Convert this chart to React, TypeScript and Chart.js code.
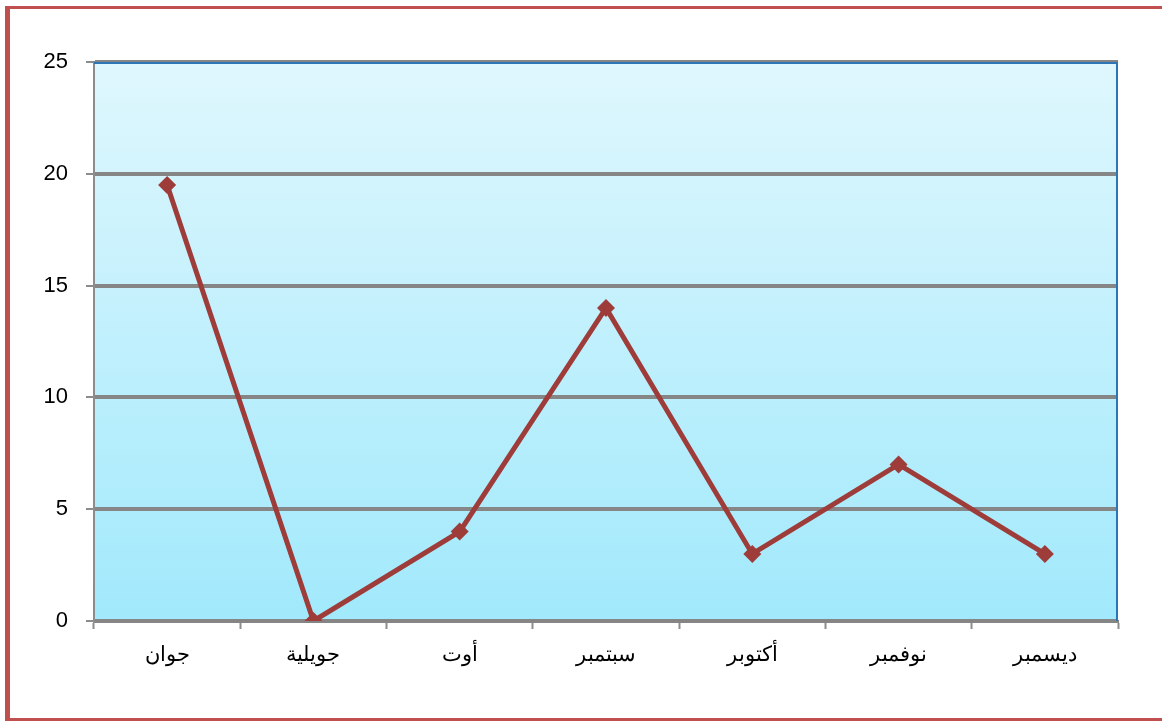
import React, { useEffect, useRef } from "react";
import { Chart, registerables } from "chart.js";

Chart.register(...registerables);

const months = ["جوان", "جويلية", "أوت", "سبتمبر", "أكتوبر", "نوفمبر", "ديسمبر"];
const values = [19.5, 0, 4, 14, 3, 7, 3];
const yTicks = [0, 5, 10, 15, 20, 25];

const bgPlugin = {
  id: "bgPlugin",
  beforeDraw(chart: any) {
    const { ctx, chartArea } = chart;
    const { left, top, right, bottom } = chartArea;
    ctx.save();
    ctx.fillStyle = "#ffffff";
    ctx.fillRect(0, 0, chart.width, chart.height);
    ctx.strokeStyle = "#c0504d";
    ctx.lineWidth = 3;
    ctx.beginPath();
    ctx.moveTo(1170, 7.5);
    ctx.lineTo(7.5, 7.5);
    ctx.lineTo(7.5, 719.5);
    ctx.lineTo(1170, 719.5);
    ctx.stroke();
    ctx.lineWidth = 5;
    ctx.beginPath();
    ctx.moveTo(7.5, 6);
    ctx.lineTo(7.5, 721);
    ctx.stroke();
    const g = ctx.createLinearGradient(0, top, 0, bottom);
    g.addColorStop(0, "#dff7fd");
    g.addColorStop(1, "#a1e9fc");
    ctx.fillStyle = g;
    ctx.fillRect(left, top, right - left, bottom - top);
    ctx.restore();
  },
  afterDraw(chart: any) {
    const { ctx, chartArea } = chart;
    const { left, top, right, bottom } = chartArea;
    ctx.save();
    ctx.strokeStyle = "#2e75b6";
    ctx.lineWidth = 2;
    ctx.beginPath();
    ctx.moveTo(left, top + 1);
    ctx.lineTo(right - 1, top + 1);
    ctx.lineTo(right - 1, bottom);
    ctx.stroke();
    ctx.restore();
  },
};

export default function App() {
  const ref = useRef<HTMLCanvasElement | null>(null);
  useEffect(() => {
    if (!ref.current) return;
    const chart = new Chart(ref.current, {
      type: "line",
      data: {
        labels: months,
        datasets: [
          {
            data: values,
            borderColor: "#9e3c3a",
            backgroundColor: "#9e3c3a",
            borderWidth: 5,
            pointStyle: "rectRot",
            pointRadius: 9,
            pointHoverRadius: 9,
            pointBackgroundColor: "#9e3c3a",
            pointBorderColor: "#9e3c3a",
            pointBorderWidth: 0,
            tension: 0,
          },
        ],
      },
      options: {
        animation: false,
        responsive: false,
        maintainAspectRatio: false,
        layout: { padding: { left: 0, top: 62, right: 44, bottom: 0 } },
        plugins: { legend: { display: false }, tooltip: { enabled: false } },
        scales: {
          x: {
            type: "category",
            offset: true,
            afterFit(scale: any) {
              scale.height = 103;
            },
            grid: {
              offset: true,
              drawOnChartArea: false,
              drawTicks: true,
              tickLength: 8,
              tickColor: "#8c8c8c",
              tickWidth: 2,
            },
            border: { display: true, color: "#858585", width: 3 },
            ticks: {
              color: "#000000",
              font: { family: "'Liberation Sans', Arial, sans-serif", size: 21 },
              padding: 14,
              maxRotation: 0,
            },
          },
          y: {
            min: 0,
            max: 25,
            afterFit(scale: any) {
              scale.width = 94;
            },
            afterBuildTicks(scale: any) {
              scale.ticks = yTicks.map((v) => ({ value: v }));
            },
            grid: {
              color: "#868686",
              lineWidth: 4,
              drawTicks: true,
              tickLength: 8,
              tickColor: "#8c8c8c",
              tickWidth: 2,
            },
            border: { display: true, color: "#8c8c8c", width: 2 },
            ticks: {
              color: "#000000",
              font: { family: "'Liberation Sans', Arial, sans-serif", size: 22 },
              padding: 18,
            },
          },
        },
      },
      plugins: [bgPlugin],
    });
    return () => chart.destroy();
  }, []);
  return (
    <div style={{ position: "fixed", left: 0, top: 0, width: 1162, height: 724 }}>
      <canvas ref={ref} width={1162} height={724} style={{ display: "block" }} />
    </div>
  );
}
